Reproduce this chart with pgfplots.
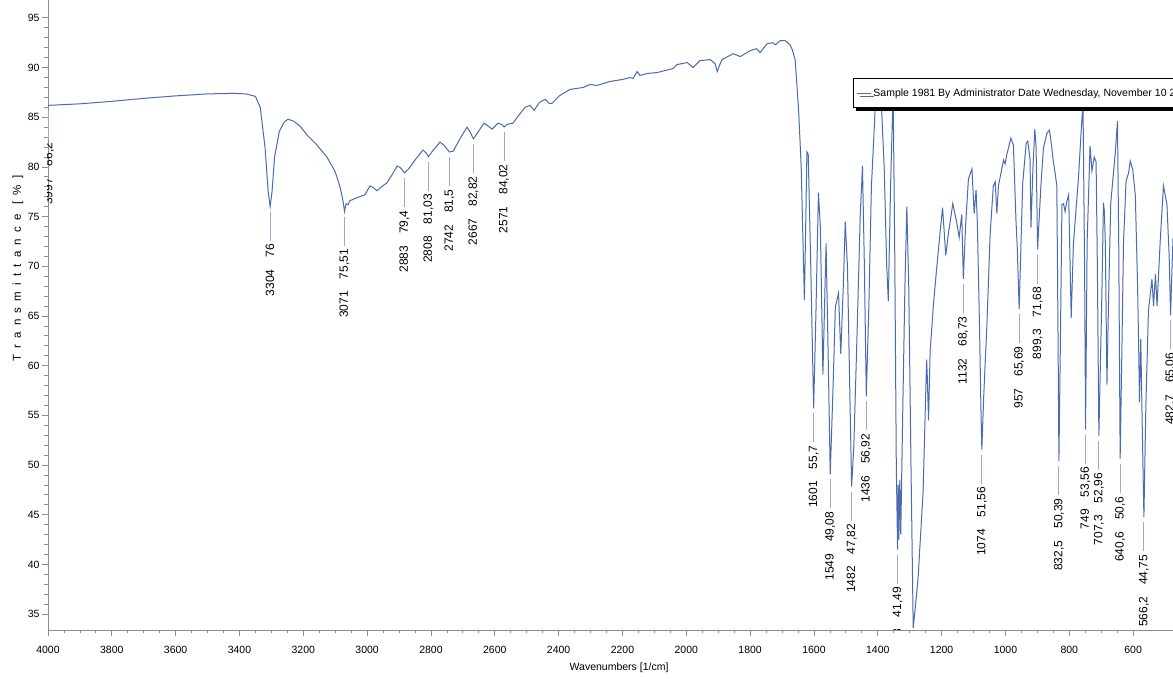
\documentclass[border=0pt]{standalone}
\usepackage{fontspec}
\setmainfont{Liberation Sans}
\usepackage{pgfplots}
\pgfplotsset{compat=1.18}
\usetikzlibrary{shadows}
\definecolor{spec}{HTML}{4A6BAE}
\definecolor{peakln}{HTML}{97ABD4}
\definecolor{axgray}{HTML}{8C8C8C}
\pgfdeclareplotmark{peakline}{\pgfpathmoveto{\pgfqpoint{0pt}{-5pt}}\pgfpathlineto{\pgfqpoint{0pt}{-34pt}}\pgfusepathqstroke}
\newcommand{\gap}{\hspace{12pt}}
\begin{document}
\begin{tikzpicture}
\useasboundingbox (0,0) rectangle (1173pt,679pt);
\fill[white] (0,0) rectangle (1173pt,679pt);
\clip (0,0) rectangle (1173pt,679pt);
\begin{axis}[
 at={(48pt,49pt)}, anchor=south west,
 scale only axis, width=1125pt, height=630pt,
 x dir=reverse, xmin=475, xmax=4000, ymin=33.4, ymax=96.8,
 clip marker paths=true,
 axis x line*=bottom, axis y line*=left,
 axis line style={axgray, line width=0.8pt, -},
 xtick={600,800,...,4000}, ytick={35,40,...,95},
 minor x tick num=3, minor y tick num=4,
 tick align=outside,
 major tick length=6pt, minor tick length=3.5pt,
 every tick/.style={axgray, line width=0.8pt},
 /pgf/number format/1000 sep={},
 /pgf/number format/assume math mode=true,
 tick label style={font=\fontsize{10.5}{12}\selectfont, text=black},
 xticklabel style={yshift=-7pt},
 yticklabel style={xshift=1pt},
 xlabel={Wavenumbers [1/cm]},
 xlabel style={at={(axis description cs:0.5076,-0.0603)}, anchor=center, font=\fontsize{10.5}{12}\selectfont},
 ylabel={Transmittance [\%]},
 ylabel style={at={(axis description cs:-0.0267,0.574)}, anchor=center, font=\fontsize{11.5}{12}\selectfont\addfontfeatures{LetterSpace=54}},
 legend style={at={(axis description cs:0.7156,0.876)}, anchor=north west, draw=black, line width=0.8pt, fill=white,
   font=\fontsize{10.5}{12}\selectfont, inner xsep=3pt, inner ysep=8pt,
   drop shadow={fill=black, opacity=1, shadow xshift=3pt, shadow yshift=-3pt}},
 legend image code/.code={\draw[#1, line width=1pt] (0pt,0pt) -- (9pt,0pt); \path (0pt,0pt) -- (14pt,0pt);},
]
\addplot[spec, line width=1pt] coordinates {
(4000,86.2) (3997,86.2) (3900,86.35) (3800,86.6) (3700,86.9) (3600,87.15) (3500,87.35) (3420,87.4)
(3380,87.35) (3350,87.1) (3335,86) (3320,82) (3310,77.5) (3304,76) (3298,77.5) (3290,81)
(3275,83.6) (3260,84.5) (3248,84.8) (3230,84.6) (3210,84.1) (3188,83.2) (3160,82.3) (3126,81.0)
(3100,79.5) (3085,78.0) (3075,76.5) (3071,75.51) (3066,76.3) (3060,76.2) (3054,76.6) (3032,76.9)
(3007,77.2) (2991,78.1) (2980,77.9) (2969,77.6) (2955,78.0) (2938,78.4) (2920,79.3) (2906,80.1)
(2895,79.9) (2883,79.4) (2870,79.8) (2850,80.7) (2825,81.7) (2815,81.4) (2808,81.03) (2795,81.6)
(2772,82.5) (2760,82.2) (2742,81.5) (2730,81.6) (2710,82.8) (2687,84.0) (2677,83.5) (2667,82.82)
(2655,83.4) (2634,84.4) (2620,84.1) (2609,83.8) (2590,84.4) (2580,84.3) (2571,84.02) (2560,84.3)
(2543,84.4) (2525,85.2) (2505,86.0) (2490,86.2) (2477,85.7) (2460,86.5) (2442,86.8) (2430,86.4)
(2421,86.4) (2396,87.2) (2364,87.8) (2323,88.0) (2301,88.3) (2280,88.2) (2239,88.6) (2200,88.8)
(2176,89.0) (2167,88.9) (2154,89.6) (2145,89.2) (2123,89.4) (2091,89.5) (2041,89.9) (2029,90.3)
(1997,90.5) (1979,90.0) (1957,90.7) (1925,90.8) (1910,90.4) (1903,89.6) (1895,90.3) (1888,90.8)
(1853,91.4) (1831,91.1) (1800,91.7) (1780,91.9) (1769,91.5) (1747,92.4) (1730,92.5) (1720,92.3)
(1706,92.7) (1690,92.7) (1675,92.3) (1668,91.8) (1659,90.8) (1648,85.7) (1640,80) (1634,72)
(1630,66.6) (1627,72) (1622,81.5) (1618,81.3) (1610,70) (1601,55.7) (1594,65) (1586,77.4)
(1580,74) (1572,59.1) (1562,72.3) (1556,62) (1549,49.08) (1540,58) (1533,65.9) (1523,67.3)
(1516,61.2) (1508,68) (1502,74.5) (1495,70) (1488,58) (1482,47.82) (1475,52) (1466,62)
(1455,75.1) (1448,80.1) (1442,70) (1436,56.92) (1428,66) (1420,78) (1408,86) (1400,87.6)
(1390,87.2) (1380,80) (1372,70) (1367,66.5) (1360,78) (1352,87.6) (1347,72) (1342,50)
(1338,41.49) (1336,48) (1334,42.5) (1331,48.5) (1328,43) (1322,55) (1315,68) (1309,76)
(1303,68) (1296,50) (1289,33.6) (1283,35.5) (1274,38.5) (1258,47.3) (1247,60.6) (1245,59)
(1241,54.5) (1236,61.4) (1226,66) (1215,70) (1203,74) (1197,75.9) (1187,71.1) (1180,73)
(1165,76.3) (1152,74.3) (1145,72.9) (1137,75.2) (1132,68.73) (1125,74) (1116,78.8) (1105,79.8)
(1098,75.3) (1092,77.7) (1088,74.3) (1081,63.5) (1077,56) (1074,51.56) (1068,57) (1058,64.2)
(1048,73.2) (1038,78.1) (1032,78.5) (1027,75.3) (1022,78.1) (1006,80.7) (1001,80.3) (996,81.2)
(983,82.9) (975,82.2) (967,74.6) (963,71.9) (957,65.69) (952,71.5) (946,78.3) (935,82.4)
(930,82.6) (923,80.8) (920,73.9) (914,79.8) (908,83.8) (904,82) (899.3,71.68) (889,78.1)
(881,81.9) (870,83.4) (862,83.7) (855,82) (851,80.8) (845,79.5) (839,78.1) (835,62)
(832.5,50.39) (828,62) (823,76.2) (818,76.3) (813,75.5) (808,76.5) (802,77.2) (794,64.8)
(787,72.3) (771,79) (762,84) (757,86.3) (752,70) (749,53.56) (744,72.5) (735,82.1)
(729,79.6) (722,81) (716,80.5) (712,70) (707.3,52.96) (698,67) (693,76.4) (690,75.5)
(687,72.2) (682,58.1) (676,68) (670,76.4) (656,81.4) (649,84.6) (645,72) (640.6,50.6)
(635,62) (630,72.5) (622,78.6) (614,79.4) (609,80.6) (601,79.7) (593,77.1) (586,68)
(583,62.7) (580,56.3) (576,62.7) (572,55) (566.2,44.75) (560,56) (552,65.5) (541,68.7)
(536,66) (530,69.2) (525,66) (515,72.6) (505,78.1) (494,76.2) (487,71) (482.7,65.06)
(478,70) (475,72.8)
};
\addlegendentry{Sample 1981 By Administrator Date Wednesday, November 10 2021}
\addplot[peakln, line width=0.9pt, only marks, mark=peakline, forget plot,
  point meta=explicit symbolic, nodes near coords,
  nodes near coords style={text=black, font=\fontsize{12}{12}\selectfont, inner sep=0pt, yshift=-37pt, rotate=90, anchor=east}]
coordinates {
(3997,86.2) [3997\gap 86{,}2]
(3304,76) [3304\gap 76]
(3071,75.51) [3071\gap 75{,}51]
(2883,79.4) [2883\gap 79{,}4]
(2808,81.03) [2808\gap 81{,}03]
(2742,81.5) [2742\gap 81{,}5]
(2667,82.82) [2667\gap 82{,}82]
(2571,84.02) [2571\gap 84{,}02]
(1601,55.7) [1601\gap 55{,}7]
(1549,49.08) [1549\gap 49{,}08]
(1482,47.82) [1482\gap 47{,}82]
(1436,56.92) [1436\gap 56{,}92]
(1338,41.49) [1338\gap 41{,}49]
(1132,68.73) [1132\gap 68{,}73]
(1074,51.56) [1074\gap 51{,}56]
(957,65.69) [957\gap 65{,}69]
(899.3,71.68) [899{,}3\gap 71{,}68]
(832.5,50.39) [832{,}5\gap 50{,}39]
(749,53.56) [749\gap 53{,}56]
(707.3,52.96) [707{,}3\gap 52{,}96]
(640.6,50.6) [640{,}6\gap 50{,}6]
(566.2,44.75) [566{,}2\gap 44{,}75]
(482.7,65.06) [482{,}7\gap 65{,}06]
};
\end{axis}
\end{tikzpicture}
\end{document}
